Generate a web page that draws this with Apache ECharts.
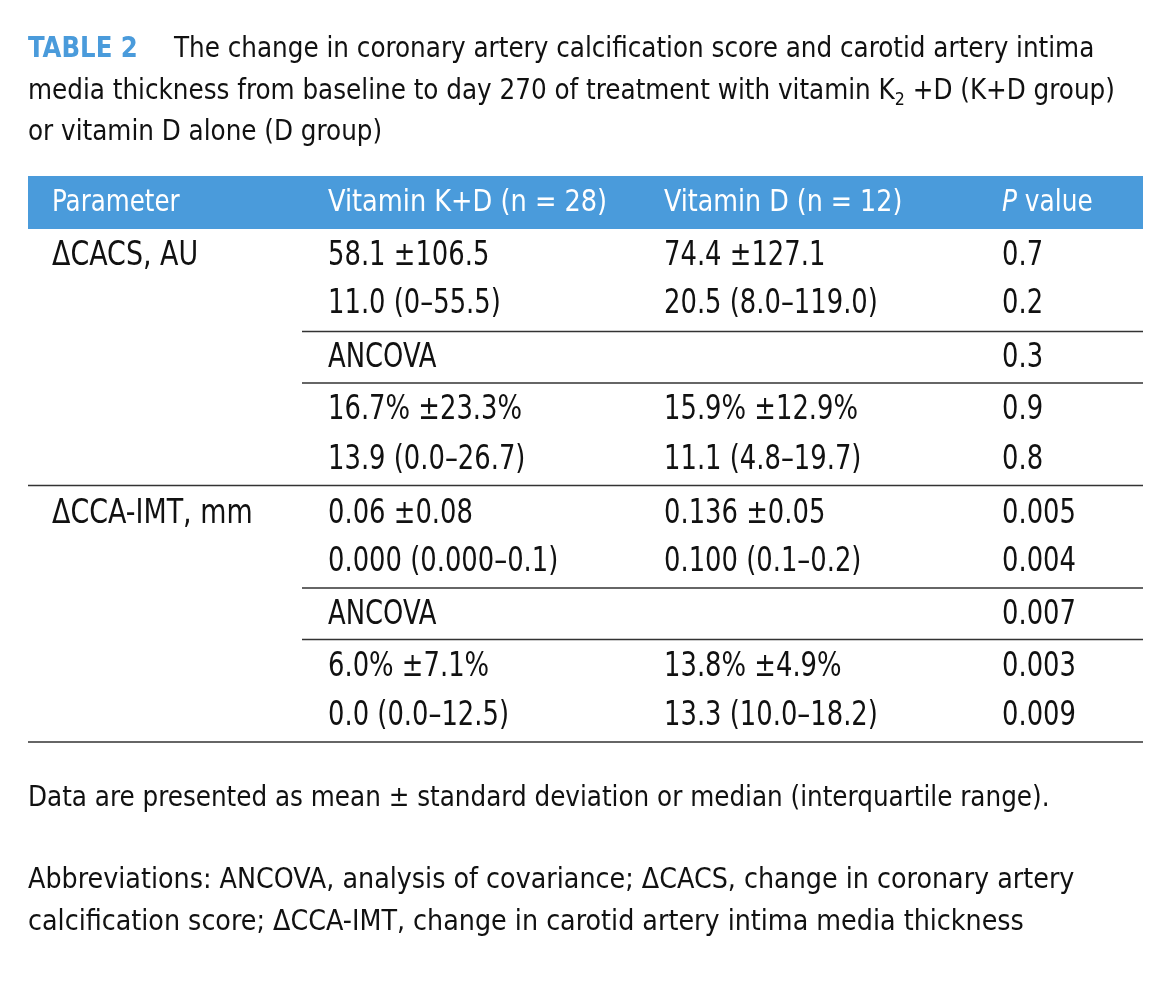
<!DOCTYPE html>
<html>
<head>
<meta charset="utf-8">
<script src="https://cdn.jsdelivr.net/npm/echarts@6/dist/echarts.min.js"></script>
<style>
  html, body { margin: 0; background: #fff; }
  #main { width: 1162px; height: 990px; }
</style>
</head>
<body>
<div id="main"></div>
<script>
const FONT = "'DejaVu Sans Condensed', sans-serif";
const BLUE = '#4a9bdb';
const INK = '#111';

// table content
const headers = ['Parameter', 'Vitamin K+D (n = 28)', 'Vitamin D (n = 12)', 'P value'];
const parameters = ['ΔCACS, AU', '', '', '', '', 'ΔCCA-IMT, mm', '', '', '', ''];
const kdValues = ['58.1 ±106.5', '11.0 (0–55.5)', 'ANCOVA', '16.7% ±23.3%', '13.9 (0.0–26.7)',
                  '0.06 ±0.08', '0.000 (0.000–0.1)', 'ANCOVA', '6.0% ±7.1%', '0.0 (0.0–12.5)'];
const dValues = ['74.4 ±127.1', '20.5 (8.0–119.0)', '', '15.9% ±12.9%', '11.1 (4.8–19.7)',
                 '0.136 ±0.05', '0.100 (0.1–0.2)', '', '13.8% ±4.9%', '13.3 (10.0–18.2)'];
const pValues = ['0.7', '0.2', '0.3', '0.9', '0.8', '0.005', '0.004', '0.007', '0.003', '0.009'];
// rule under a row: 0 none, 1 from the K+D column on, 2 full width
const rules = [0, 1, 1, 0, 2, 0, 1, 1, 0, 2];

const titleLines = [
  'The change in coronary artery calcification score and carotid artery intima',
  '{n|media thickness from baseline to day 270 of treatment with vitamin K}{s|2}{n| +D (K+D group)}',
  'or vitamin D alone (D group)'
];
const footnotes = [
  'Data are presented as mean ± standard deviation or median (interquartile range).',
  'Abbreviations: ANCOVA, analysis of covariance; ΔCACS, change in coronary artery',
  'calcification score; ΔCCA-IMT, change in carotid artery intima media thickness'
];

// layout (offsets from the table's left edge)
const colX = [24, 300, 636, 974];
const partialRuleX = 274;
const rowNudge = [2, -2, 1, 2, 0, 3, 0, 1, 2, 0];

const chart = echarts.init(document.getElementById('main'));

const rowIdx = pValues.map((_, i) => String(i));

function txt(x, y, style, sx) {
  return {
    type: 'text', x: x, y: y, scaleX: sx || 1,
    style: Object.assign({ fill: INK, verticalAlign: 'middle' }, style)
  };
}

function renderRow(params, api) {
  const i = params.dataIndex;
  const cs = params.coordSys;
  const pt = api.coord([0, i]);
  const band = api.size([0, 1])[1];
  const y = pt[1];
  const cells = [parameters[i], kdValues[i], dValues[i], pValues[i]];
  const children = cells.map((t, k) =>
    txt(api.coord([colX[k], i])[0], y + rowNudge[i],
        { text: t, font: '34px ' + FONT }, k === 0 ? 0.88 : 0.845));
  if (rules[i]) {
    const xs = rules[i] === 2 ? cs.x : api.coord([partialRuleX, i])[0];
    children.push({
      type: 'line',
      shape: { x1: xs, y1: y + band / 2, x2: cs.x + cs.width, y2: y + band / 2 },
      style: { stroke: '#333', lineWidth: 1.5 }
    });
  }
  return { type: 'group', children };
}

const headFont = '30px ' + FONT;
const option = {
  animation: false,
  backgroundColor: '#fff',
  grid: { left: 28, right: 19, top: 229, bottom: 248 },
  xAxis: { type: 'value', min: 0, max: 1115, show: false },
  yAxis: { type: 'category', data: rowIdx, inverse: true, show: false },
  graphic: [
    txt(28, 50, { text: 'TABLE 2', font: 'bold 28px ' + FONT, fill: BLUE }, 0.97),
    txt(174, 50, { text: titleLines[0], font: '28px ' + FONT }, 0.98),
    txt(28, 92, {
      text: titleLines[1],
      rich: {
        n: { font: '28px ' + FONT, fill: INK },
        s: { font: '18px ' + FONT, fill: INK, padding: [16, 0, 0, 0] }
      }
    }, 0.98),
    txt(28, 133, { text: titleLines[2], font: '28px ' + FONT }, 0.98),
    { type: 'rect', shape: { x: 28, y: 176, width: 1115, height: 53 }, style: { fill: BLUE } },
    txt(52, 203, { text: headers[0], font: headFont, fill: '#fff' }, 0.91),
    txt(328, 203, { text: headers[1], font: headFont, fill: '#fff' }, 0.95),
    txt(664, 203, { text: headers[2], font: headFont, fill: '#fff' }, 0.94),
    txt(1002, 203, {
      text: '{i|' + headers[3].split(' ')[0] + '}{n| ' + headers[3].split(' ')[1] + '}',
      rich: {
        i: { font: 'italic ' + headFont, fill: '#fff' },
        n: { font: headFont, fill: '#fff' }
      }
    }, 0.92),
    txt(28, 799, { text: footnotes[0], font: '28px ' + FONT }, 0.98),
    txt(28, 881, { text: footnotes[1], font: '28px ' + FONT }, 1.01),
    txt(28, 923, { text: footnotes[2], font: '28px ' + FONT }, 1.01)
  ],
  series: [{
    type: 'custom',
    renderItem: renderRow,
    data: rowIdx.map((_, i) => [0, i]),
    silent: true
  }]
};

chart.setOption(option);
</script>
</body>
</html>
